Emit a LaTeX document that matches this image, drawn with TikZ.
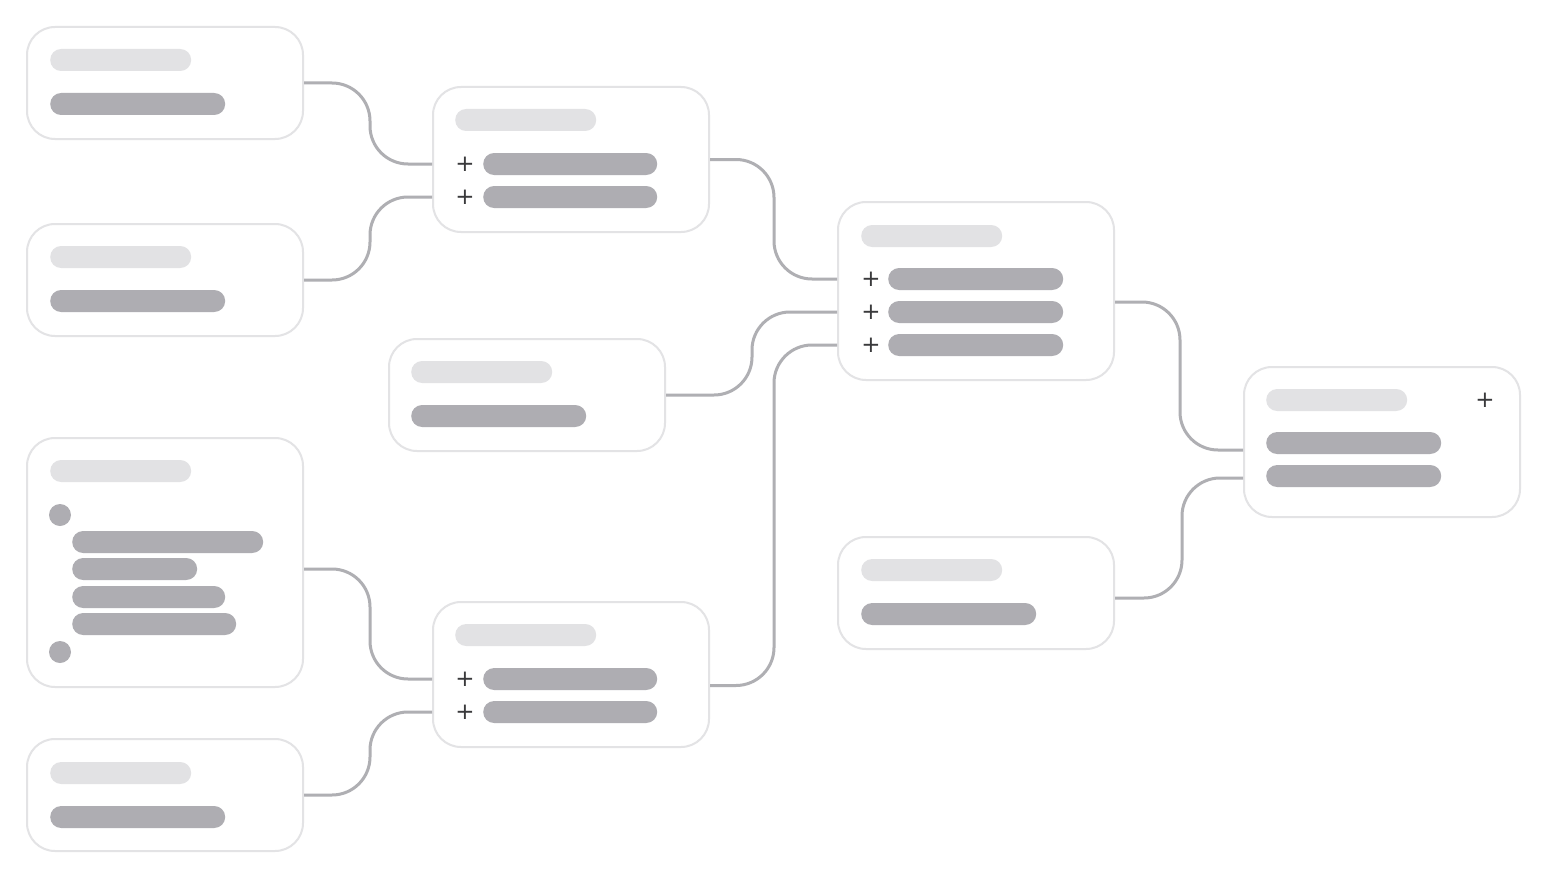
\documentclass[tikz,border=0pt]{standalone}
\usepackage{fontspec}
\newfontfamily\plusfont{DejaVu Sans}

\definecolor{cardline}{HTML}{E3E3E5}
\definecolor{headgray}{HTML}{E2E2E4}
\definecolor{bargray}{HTML}{AEADB2}
\definecolor{linkgray}{HTML}{AFAFB3}
\definecolor{plusgray}{HTML}{3A3A3C}

\tikzset{
  card/.style={draw=cardline, line width=2pt, fill=white, rounded corners=28pt,
    minimum width=276pt, minimum height=#1, anchor=north west, inner sep=0pt},
  head/.style={fill=headgray, rounded corners=11pt, minimum width=141pt,
    minimum height=22pt, anchor=west, inner sep=0pt},
  bar/.style={fill=bargray, rounded corners=11pt, minimum width=#1,
    minimum height=22pt, anchor=west, inner sep=0pt},
  bar/.default=175pt,
  plus/.style={text=plusgray, font=\plusfont\fontsize{23}{23}\selectfont, inner sep=0pt},
  dot/.style={circle, fill=bargray, minimum size=22pt, inner sep=0pt},
  link/.style={draw=linkgray, line width=3pt, rounded corners=38pt}
}

\begin{document}
\begin{tikzpicture}[x=1pt, y=-1pt]

\fill[white] (0,0) rectangle (1541,872);

%cards, left column
\node[card=112pt] (a1) at (26,26) {};
\node[head] (a1h) at (50,60) {};
\node[bar] (a1b) at (50,104) {};

\node[card=112pt] (a2) at (26,223) {};
\node[head] (a2h) at (50,257) {};
\node[bar] (a2b) at (50,301) {};

\node[card=249pt] (a3) at (26,437) {};
\node[head] (a3h) at (50,471) {};
\node[dot] (a3d1) at (60,515) {};
\node[bar=191pt] (a3b1) at (72,542) {};
\node[bar=125pt] (a3b2) at (72,569) {};
\node[bar=153pt] (a3b3) at (72,597) {};
\node[bar=164pt] (a3b4) at (72,624) {};
\node[dot] (a3d2) at (60,652) {};

\node[card=112pt] (a4) at (26,738) {};
\node[head] (a4h) at (50,773) {};
\node[bar] (a4b) at (50,817) {};

%cards, second column
\node[card=145pt] (b1) at (432,86) {};
\node[head] (b1h) at (455,120) {};
\foreach \i/\y in {1/164, 2/197} {
	\node[plus] (b1p\i) at (465,\y) {+};
	\node[bar=174pt] (b1b\i) at (483,\y) {};
}

\node[card=112pt] (c) at (388,338) {};
\node[head] (ch) at (411,372) {};
\node[bar] (cb) at (411,416) {};

\node[card=145pt] (b2) at (432,601) {};
\node[head] (b2h) at (455,635) {};
\foreach \i/\y in {1/679, 2/712} {
	\node[plus] (b2p\i) at (465,\y) {+};
	\node[bar=174pt] (b2b\i) at (483,\y) {};
}

%cards, third column
\node[card=178pt] (d1) at (837,201) {};
\node[head] (d1h) at (861,236) {};
\foreach \i/\y in {1/279, 2/312, 3/345} {
	\node[plus] (d1p\i) at (871,\y) {+};
	\node[bar] (d1b\i) at (888,\y) {};
}

\node[card=112pt] (d2) at (837,536) {};
\node[head] (d2h) at (861,570) {};
\node[bar] (d2b) at (861,614) {};

%last card
\node[card=150pt] (e) at (1243,366) {};
\node[head] (eh) at (1266,400) {};
\node[plus] (ep) at (1485,400) {+};
\node[bar] (eb1) at (1266,443) {};
\node[bar] (eb2) at (1266,476) {};

%links
\draw[link] (a1.east) -- ++(66,0) |- (b1.west |- b1b1);
\draw[link] (a2.east) -- ++(66,0) |- (b1.west |- b1b2);
\draw[link] (a3.east |- a3b2) -- ++(66,0) |- (b2.west |- b2b1);
\draw[link] (a4.east) -- ++(66,0) |- (b2.west |- b2b2);
\draw[link] (b1.east) -- ++(64,0) |- (d1.west |- d1b1);
\draw[link] (c.east) -- ++(86,0) |- (d1.west |- d1b2);
\draw[link] ([yshift=-11pt]b2.east) -- ++(64,0) |- (d1.west |- d1b3);
\draw[link] ([yshift=-11pt]d1.east) -- ++(65,0) |- ([yshift=-8pt]e.west);
\draw[link] ([yshift=-5pt]d2.east) -- ++(67,0) |- ([yshift=-36pt]e.west);

\end{tikzpicture}
\end{document}
